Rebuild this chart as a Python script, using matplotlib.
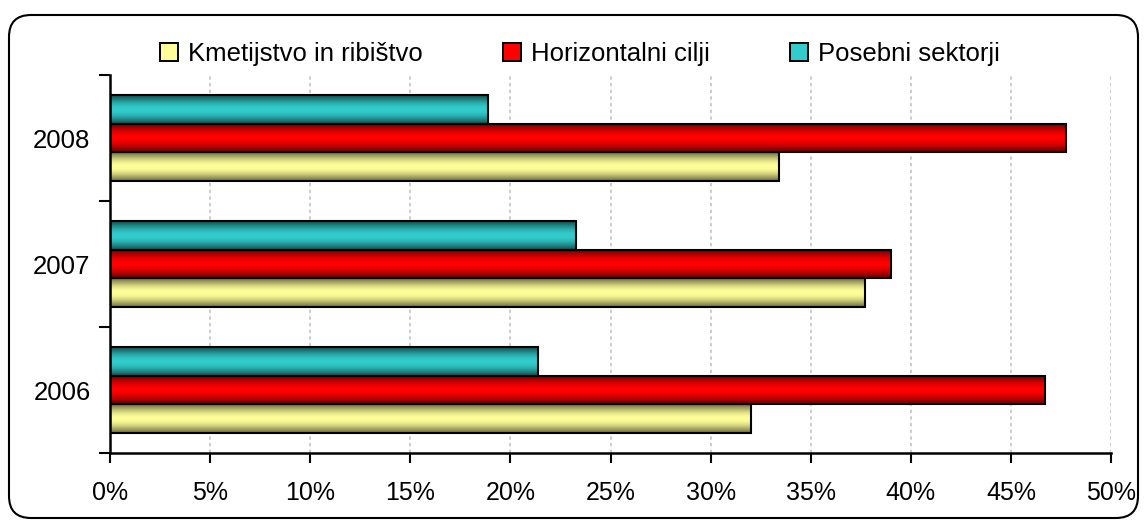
import numpy as np
import matplotlib
matplotlib.use("Agg")
import matplotlib.pyplot as plt
import matplotlib.patches as mpatches
from matplotlib.transforms import IdentityTransform

plt.rcParams['font.family'] = ['Liberation Sans', 'DejaVu Sans']

years = ['2006', '2007', '2008']
series = ['Kmetijstvo in ribištvo', 'Horizontalni cilji', 'Posebni sektorji']
kmetijstvo = [32.0, 37.7, 33.4]
horizontalni = [46.7, 39.0, 47.75]
posebni = [21.4, 23.3, 18.9]

# (center colour, edge colour) for the shaded bars
colours = [('#FFFF99', '#6E6E40'), ('#FF0000', '#660000'), ('#33CCCC', '#124F4F')]


def hex2rgb(h):
    return np.array(matplotlib.colors.to_rgb(h))


def gradient_bar(ax, rect, c_mid, c_edge):
    x0, y0 = rect.get_x(), rect.get_y()
    w, h = rect.get_width(), rect.get_height()
    t = np.linspace(0, 1, 64)
    f = np.sin(np.pi * t) ** 1.1
    mid, edge = hex2rgb(c_mid), hex2rgb(c_edge)
    img = edge[None, :] + (mid - edge)[None, :] * f[:, None]
    ax.imshow(img[:, None, :], extent=[x0, x0 + w, y0, y0 + h], aspect='auto',
              interpolation='bilinear', origin='lower', zorder=2)
    ax.add_patch(mpatches.Rectangle((x0, y0), w, h, fill=False, edgecolor='black',
                                    linewidth=1.5, zorder=3))


fig = plt.figure(figsize=(11.46, 5.21), dpi=100)
ax = fig.add_axes([0.096, 0.1305, 0.8735, 0.7255])

y = np.arange(len(years))
bh = 0.225
data = [kmetijstvo, horizontalni, posebni]
offsets = [-bh, 0, bh]
for vals, off, (cm, ce) in zip(data, offsets, colours):
    bars = ax.barh(y + off, vals, height=bh, color='none', edgecolor='none')
    for r in bars:
        gradient_bar(ax, r, cm, ce)

ax.set_xlim(0, 50)
ax.set_ylim(-0.5, 2.5)
ax.set_xticks(np.arange(0, 51, 5))
ax.set_xticklabels([f'{v}%' for v in range(0, 51, 5)], fontsize=18)
ax.set_yticks(np.arange(-0.5, 2.6, 1))
ax.set_yticklabels([])
ax.set_yticks(y, minor=True)
ax.set_yticklabels(years, minor=True, fontsize=18.5)
ax.tick_params(axis='y', which='minor', length=0, pad=14)
ax.tick_params(axis='y', which='major', length=8, width=1.5, direction='out')
ax.tick_params(axis='x', length=7, width=1.5, direction='out', pad=13)
ax.xaxis.grid(True, color='#C4C4C4', linestyle=(0, (2, 2)), linewidth=1.2)
ax.set_axisbelow(True)
for s in ['top', 'right']:
    ax.spines[s].set_visible(False)
for s in ['left', 'bottom']:
    ax.spines[s].set_linewidth(1.8)

handles = [mpatches.Rectangle((0, 0), 1, 1, facecolor=cm, edgecolor='black', linewidth=1.4)
           for cm, ce in colours]
fig.legend(handles, series, loc='center', bbox_to_anchor=(0.506, 0.897), ncol=3,
           frameon=False, fontsize=18.5, handlelength=0.7, handleheight=0.7,
           handletextpad=0.4, columnspacing=3.1, borderpad=0, borderaxespad=0)

border = mpatches.FancyBboxPatch((9, 3), 1129, 503, boxstyle='round,pad=0,rounding_size=22',
                                 transform=IdentityTransform(), fill=False,
                                 edgecolor='black', linewidth=1.5)
fig.add_artist(border)

fig.savefig('out.png', dpi=100)
